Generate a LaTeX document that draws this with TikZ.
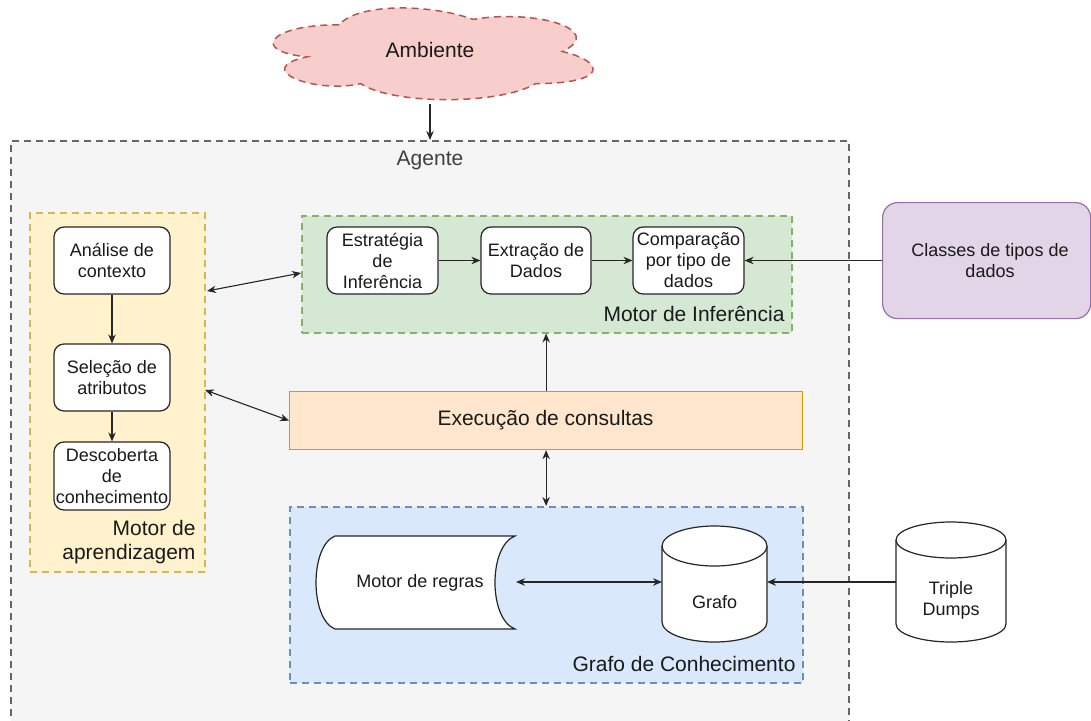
\documentclass[tikz,border=0pt]{standalone}
\usepackage{fontspec}
\setmainfont{Liberation Sans}
\usetikzlibrary{arrows.meta}
\definecolor{outerfill}{HTML}{F5F5F5}
\definecolor{outerdraw}{HTML}{666666}
\definecolor{yelfill}{HTML}{FFF2CC}
\definecolor{yeldraw}{HTML}{D6B656}
\definecolor{grnfill}{HTML}{D5E8D4}
\definecolor{grndraw}{HTML}{82B366}
\definecolor{orafill}{HTML}{FFE6CC}
\definecolor{oradraw}{HTML}{D79B00}
\definecolor{blufill}{HTML}{DAE8FC}
\definecolor{bludraw}{HTML}{6C8EBF}
\definecolor{purfill}{HTML}{E1D5E7}
\definecolor{purdraw}{HTML}{9673A6}
\definecolor{redfill}{HTML}{F8CECC}
\definecolor{reddraw}{HTML}{B85450}
\definecolor{txt}{HTML}{1A1A1A}
\tikzset{
  small/.style={font=\fontsize{18}{21}\selectfont, text=txt},
  big/.style={font=\fontsize{21}{24}\selectfont, text=txt},
  cont/.style={line width=1.5pt, dash pattern=on 7pt off 5pt, inner sep=0pt, anchor=north west},
  inbox/.style={small, draw=black!85, fill=white, rounded corners=10pt, line width=1.2pt,
    minimum width=116pt, minimum height=67pt, align=center, inner sep=0pt},
  arr/.style={-{Stealth[length=9pt,width=7.5pt]}, line width=1.1pt, draw=black!85},
  darr/.style={{Stealth[length=9pt,width=7.5pt]}-{Stealth[length=9pt,width=7.5pt]}, line width=1.1pt, draw=black!85},
  shp/.style={draw=black!85, fill=white, line width=1.2pt},
}
\begin{document}
\begin{tikzpicture}[x=1pt,y=-1pt]
\useasboundingbox (0,0) rectangle (1091,720);

% Outer Agente
\node[cont, draw=outerdraw, fill=outerfill, minimum width=838pt, minimum height=600pt] (agente) at (10,140) {};
\node[big, text=black!75] (agentelbl) at (430,160) {Agente};

% Cloud
\path[draw=reddraw, fill=redfill, line width=1.5pt, dash pattern=on 7pt off 5pt]
 (339.25,24.75) .. controls (267.85,24.75) and (250,51.5) .. (307.12,56.85)
 .. controls (250,68.62) and (314.26,94.3) .. (360.67,83.6)
 .. controls (392.8,105) and (499.9,105) .. (535.6,83.6)
 .. controls (607,83.6) and (607,62.2) .. (562.375,51.5)
 .. controls (607,30.1) and (535.6,8.7) .. (473.125,19.4)
 .. controls (428.5,3.35) and (357.1,3.35) .. (339.25,24.75) -- cycle;
\node[big] (amb) at (430,50) {Ambiente};
\coordinate (ambS) at (430,104);

% Containers
\node[cont, draw=yeldraw, fill=yelfill, minimum width=175pt, minimum height=359pt] (apr) at (29,212) {};
\node[cont, draw=grndraw, fill=grnfill, minimum width=490pt, minimum height=117pt] (inf) at (301,215) {};
\node[cont, draw=bludraw, fill=blufill, minimum width=513pt, minimum height=176pt] (kg) at (289,506) {};
\node[line width=1.2pt, draw=oradraw, fill=orafill, minimum width=513pt, minimum height=58pt, anchor=north west, inner sep=0pt] (exec) at (289,391) {};
\node[big] (execlbl) at (545.5,420) {Execução de consultas};

% Container labels
\node[big, anchor=east, align=right] (aprlbl) at (199,542) {Motor de\\aprendizagem};
\node[big, anchor=east] (inflbl) at (788,314) {Motor de Inferência};
\node[big, anchor=east] (kglbl) at (799,664) {Grafo de Conhecimento};

% Learning boxes
\node[inbox] (ana) at (112,260.5) {Análise de\\contexto};
\node[inbox] (sel) at (112,377.5) {Seleção de\\atributos};
\node[inbox, minimum height=68pt] (desc) at (112,476) {Descoberta\\de\\conhecimento};

% Inference boxes
\node[inbox, minimum width=111pt] (est) at (382.5,260.5) {Estratégia\\de\\Inferência};
\node[inbox, minimum width=110pt] (ext) at (536,260.5) {Extração de\\Dados};
\node[inbox, minimum width=111pt] (comp) at (688.5,260.5) {Comparação\\por tipo de\\dados};

% Classes
\node[draw=purdraw, fill=purfill, rounded corners=15pt, line width=1.2pt, minimum width=208pt, minimum height=116pt, anchor=north west, inner sep=0pt] (cls) at (882,202) {};
\node[small, align=center] (clslbl) at (990,261) {Classes de tipos de\\dados};

% Motor de regras shape
\path[shp] (335,536) -- (515,536) .. controls (488.3,546) and (488.3,619) .. (515,629)
  -- (335,629) .. controls (309.7,619) and (309.7,546) .. (335,536) -- cycle;
\node[small] (mr) at (420,583) {Motor de regras};
\coordinate (mrE) at (516,582);

% Grafo cylinder
\path[shp] (662,546) -- (662,622) arc[start angle=180, end angle=360, x radius=52.5pt, y radius=20pt]
  -- (767,546) arc[start angle=0, end angle=180, x radius=52.5pt, y radius=20pt] -- cycle;
\draw[black!85, line width=1.2pt] (662,546) arc[start angle=180, end angle=360, x radius=52.5pt, y radius=20pt];
\node[small] (grafo) at (714.5,602) {Grafo};
\coordinate (grafoW) at (662,582);
\coordinate (grafoE) at (767,582);

% Triple Dumps cylinder
\path[shp] (896,540) -- (896,624) arc[start angle=180, end angle=360, x radius=55pt, y radius=18pt]
  -- (1006,540) arc[start angle=0, end angle=180, x radius=55pt, y radius=18pt] -- cycle;
\draw[black!85, line width=1.2pt] (896,540) arc[start angle=180, end angle=360, x radius=55pt, y radius=18pt];
\node[small, align=center] (td) at (951,600) {Triple\\Dumps};
\coordinate (tdW) at (896,582);

% Connector end points on container borders
\coordinate (a1) at (207,291);
\coordinate (a2) at (205,390);

% Connectors
\draw[arr] (ambS) -- (agente.north -| ambS);
\draw[arr] (ana) -- (sel);
\draw[arr] (sel) -- (desc);
\draw[arr] (est) -- (ext);
\draw[arr] (ext) -- (comp);
\draw[arr] (cls.west |- comp) -- (comp);
\draw[darr] (a1) -- (inf.west |- 0,273);
\draw[darr] (a2) -- (exec.west);
\draw[arr] (exec.north) -- (inf.south -| exec.north);
\draw[darr] (exec.south) -- (kg.north -| exec.south);
\draw[darr] (mrE) -- (grafoW);
\draw[arr] (tdW) -- (grafoE);
\end{tikzpicture}
\end{document}
